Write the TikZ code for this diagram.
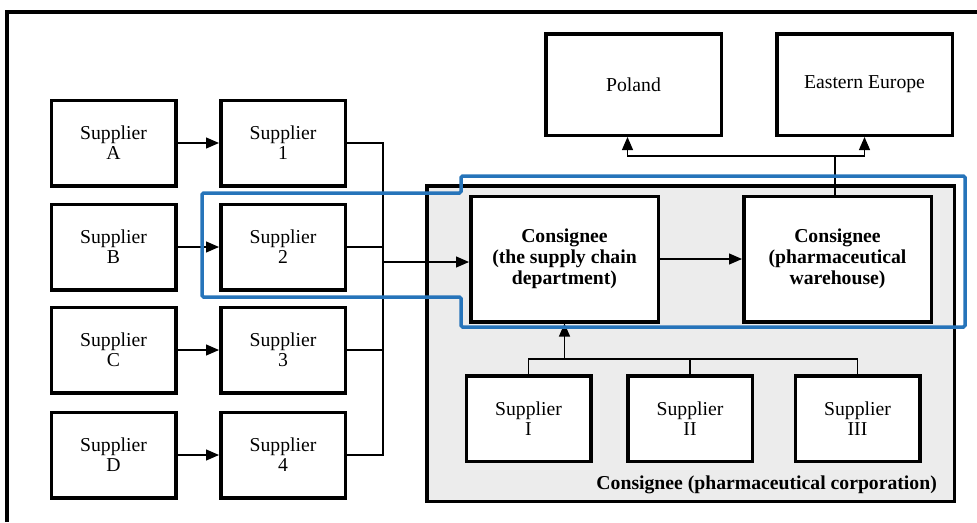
\documentclass[tikz,border=0pt]{standalone}
\usepackage{fontspec}
\setmainfont{Liberation Serif}
\usetikzlibrary{arrows.meta}
\definecolor{hlblue}{RGB}{38,116,186}
\definecolor{panelgrey}{RGB}{236,236,236}
\tikzset{
  box/.style={draw,line width=3.5pt,fill=white,minimum width=124.5pt,minimum height=85.5pt,
    align=center,inner sep=0pt,font=\fontsize{19.7}{20}\selectfont},
  bigbox/.style={box,minimum width=187.5pt,minimum height=125.5pt,
    font=\fontsize{19.7}{21}\selectfont\bfseries},
  destbox/.style={box,minimum width=175.5pt,minimum height=101.5pt},
  panel/.style={draw,line width=3.5pt,fill=panelgrey,minimum width=527.5pt,minimum height=315.5pt,inner sep=0pt},
  conn/.style={line width=1.2pt},
  arr/.style={conn,-{Triangle[length=13pt,width=11pt]}},
  highlight/.style={draw=hlblue,line width=3.5pt,rounded corners=1.5pt}
}
\begin{document}
\begin{tikzpicture}[x=1pt,y=-1pt]
\useasboundingbox (0,0) rectangle (977,522);
% outer frame (cut off at right and bottom)
\draw[line width=3.5pt] (7,522) -- (7,12) -- (977,12);

% corporation panel
\node[panel] (corp) at (690.5,343.5) {};
\node[anchor=base east,font=\fontsize{19.7}{21}\selectfont\bfseries,inner sep=0pt] (corpcap) at (937,489) {Consignee (pharmaceutical corporation)};

% left suppliers
\node[box] (sA) at (113.5,143) {Supplier\\A};
\node[box] (sB) at (113.5,247) {Supplier\\B};
\node[box] (sC) at (113.5,350) {Supplier\\C};
\node[box] (sD) at (113.5,455) {Supplier\\D};
\node[box] (s1) at (283,143) {Supplier\\1};
\node[box] (s2) at (283,247) {Supplier\\2};
\node[box] (s3) at (283,350) {Supplier\\3};
\node[box] (s4) at (283,455) {Supplier\\4};

% consignees
\node[bigbox] (c1) at (564.5,259) {Consignee\\(the supply chain\\department)};
\node[bigbox] (c2) at (837.5,259) {Consignee\\(pharmaceutical\\warehouse)};

% destinations
\node[destbox] (pol) at (633.5,84.5) {Poland};
\node[destbox] (ee) at (864.5,84.5) {Eastern Europe};

% internal suppliers
\node[box] (sI) at (528.5,418.5) {Supplier\\I};
\node[box] (sII) at (690,418.5) {Supplier\\II};
\node[box] (sIII) at (857.5,418.5) {Supplier\\III};

% connectors left
\draw[arr] (sA) -- (s1);
\draw[arr] (sB) -- (s2);
\draw[arr] (sC) -- (s3);
\draw[arr] (sD) -- (s4);
\coordinate (busTop) at (383,143);
\coordinate (busBot) at (383,455);
\coordinate (busOut) at (383,262);
\draw[conn] (s1) -- (busTop) -- (busBot) -- (s4);
\draw[conn] (s2) -- (s2 -| busTop);
\draw[conn] (s3) -- (s3 -| busTop);
\draw[arr] (busOut) -- (busOut -| c1.west);

\draw[arr] (c1) -- (c2);

% internal suppliers to c1
\coordinate (hbar) at (0,359);
\draw[conn] (sI.north) -- (sI.north |- hbar) -- (sIII.north |- hbar) -- (sIII.north);
\draw[conn] (sII.north) -- (sII.north |- hbar);
\draw[arr] (c1.south |- hbar) -- (c1.south);

% c2 to destinations
\coordinate (split) at (835,156);
\draw[conn] (c2.north -| split) -- (split);
\draw[arr] (split) -| ([xshift=-6pt]pol.south);
\draw[arr] (split) -| (ee.south);

% blue highlight
\draw[highlight] (202,193) -- (461,193) -- (461,176) -- (965,176) -- (965,327)
  -- (461,327) -- (461,297) -- (202,297) -- cycle;
\end{tikzpicture}
\end{document}
